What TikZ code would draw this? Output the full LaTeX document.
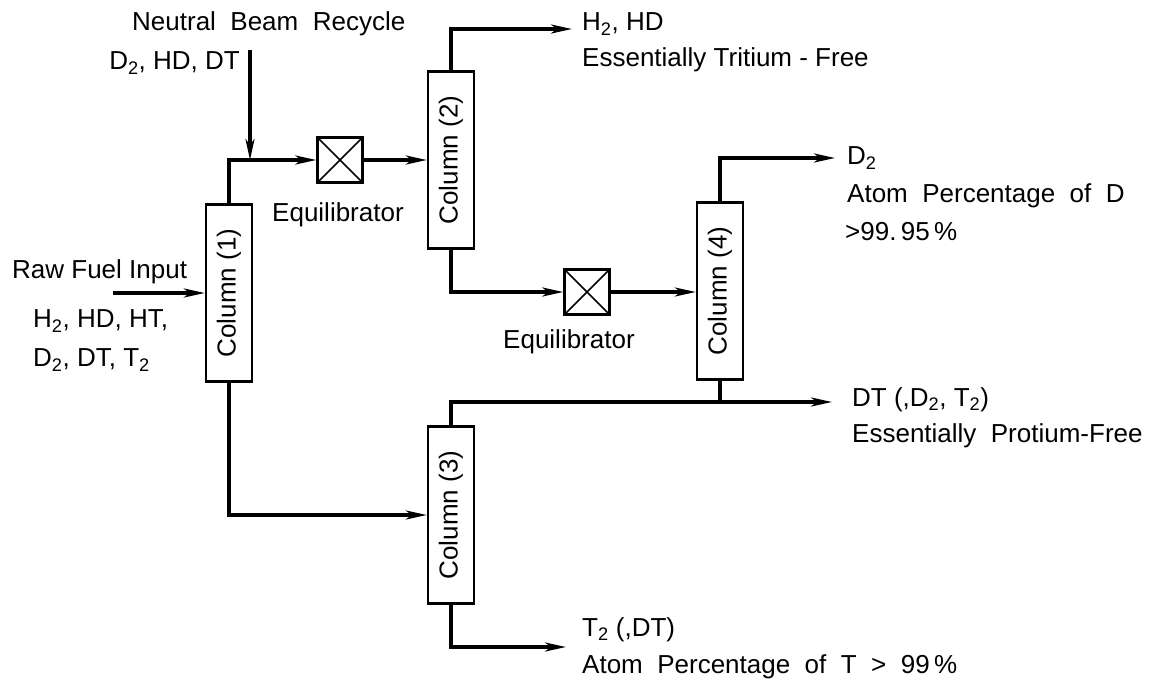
\documentclass[tikz,border=0pt]{standalone}
\usepackage{fontspec}
\setmainfont{Liberation Sans}
\usetikzlibrary{arrows.meta, calc}

\begin{document}
\begin{tikzpicture}[x=1pt, y=-1pt,
    every node/.style={font=\fontsize{26}{30}\selectfont},
    column/.style={rectangle, draw, line width=2.4pt, minimum width=46pt, minimum height=177pt, inner sep=0pt},
    eqbox/.style={rectangle, draw, line width=2.4pt, minimum size=45pt, inner sep=0pt,
        path picture={\draw[line width=1.5pt] (path picture bounding box.north west) -- (path picture bounding box.south east)
            (path picture bounding box.north east) -- (path picture bounding box.south west);}},
    flow/.style={line width=3.2pt, -{Stealth[length=21pt, width=9pt, inset=6pt]}},
    pipe/.style={line width=3.2pt},
    lbl/.style={anchor=west, inner sep=0pt}]
    \useasboundingbox (0,0) rectangle (1165,681);

    % Columns and equilibrators
    \node (c1) [column] at (229,293) {\rotatebox{90}{Column (1)}};
    \node (c2) [column] at (451,160) {\rotatebox{90}{Column (2)}};
    \node (c3) [column] at (451,515) {\rotatebox{90}{Column (3)}};
    \node (c4) [column] at (720,291) {\rotatebox{90}{Column (4)}};
    \node (eq1) [eqbox] at (340,160) {};
    \node (eq2) [eqbox] at (587,292) {};

    % Free ends of the streams
    \coordinate (rawin) at (113,293);
    \coordinate (nbr) at (250,50);
    \coordinate (outhd) at (572,29);
    \coordinate (outd) at (835,158);
    \coordinate (outdt) at (832,402);
    \coordinate (outt) at (566,647);

    % Feeds
    \node (rawlbl) [lbl] at (12,272) {Raw Fuel Input};
    \node (rawa) [lbl] at (33,321) {H\textsubscript{2}, HD, HT,};
    \node (rawb) [lbl] at (33,360) {D\textsubscript{2}, DT, T\textsubscript{2}};
    \node (nbrlbl) [lbl] at (132,24) {Neutral\ \ Beam\ \ Recycle};
    \node (nbrgas) [anchor=east, inner sep=0pt] at (240,63) {D\textsubscript{2}, HD, DT};
    \node (eq1lbl) [lbl] at (272,215) {Equilibrator};
    \node (eq2lbl) [lbl] at (503,342) {Equilibrator};

    \draw[flow] (rawin) -- (c1.west);
    \draw[flow] (nbr) -- (nbr |- eq1.west);
    \draw[flow] (c1.north) |- (eq1.west);
    \draw[flow] (eq1.east) -- (c2.west);
    \draw[flow] (c2.south) |- (eq2.west);
    \draw[flow] (eq2.east) -- (c4.west |- eq2.east);
    \draw[flow] (c1.south) |- (c3.west);

    % Products
    \draw[flow] (c2.north) |- (outhd);
    \draw[flow] (c4.north) |- (outd);
    \draw[flow] (c3.north) |- (outdt);
    \draw[pipe] (c4.south) -- (c4.south |- outdt);
    \draw[flow] (c3.south) |- (outt);

    \node (hd) [lbl] at (582,24) {H\textsubscript{2}, HD};
    \node (hdnote) [lbl] at (582,60) {Essentially Tritium - Free};
    \node (d2) [lbl] at (847,158) {D\textsubscript{2}};
    \node (d2note) [lbl] at (847,196) {Atom\ \ Percentage\ \ of\ \ D};
    \node (d2pct) [lbl] at (845,232) {>99.\,95\,\%};
    \node (dt) [lbl] at (852,400) {DT (,D\textsubscript{2}, T\textsubscript{2})};
    \node (dtnote) [lbl] at (852,436) {Essentially\ \ Protium-Free};
    \node (t2) [lbl] at (582,630) {T\textsubscript{2} (,DT)};
    \node (t2note) [lbl] at (582,667) {Atom\ \ Percentage\ \ of\ \ T\ \ >\ \ 99\,\%};
\end{tikzpicture}
\end{document}
